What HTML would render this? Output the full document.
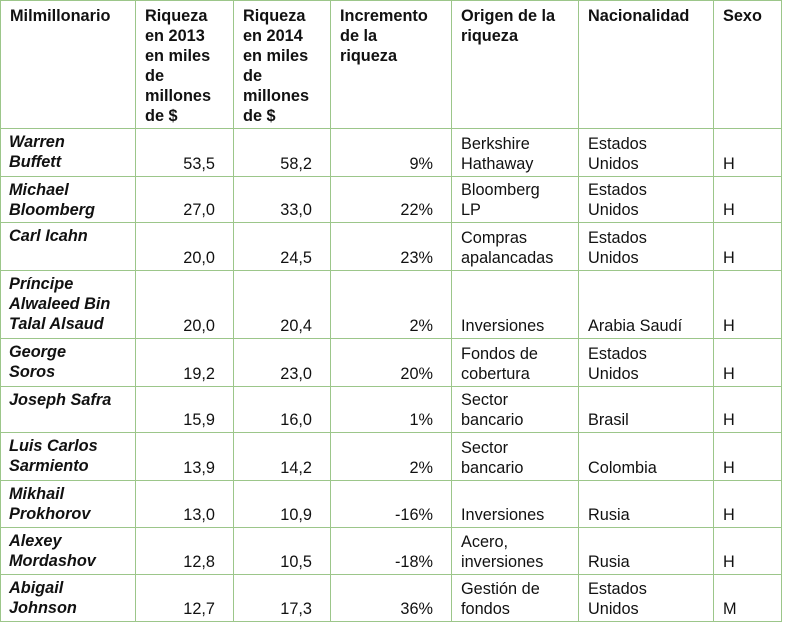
<!DOCTYPE html>
<html><head><meta charset="utf-8"><style>
body{margin:0;background:#fff;width:787px;height:628px;overflow:hidden}
table{position:absolute;left:0;top:0;border-collapse:collapse;table-layout:fixed;font-family:"Liberation Sans",Arial,sans-serif;font-size:16.3px;line-height:20px;color:#111}
td{border:1.5px solid #9cc68a;padding:1px 6px 2px 9px;vertical-align:bottom;overflow:hidden;white-space:nowrap}
tr.h td{vertical-align:top;font-weight:bold;padding-top:5px}
td.n{font-weight:bold;font-style:italic;vertical-align:top;padding-top:3px;padding-left:8px}
td.r{text-align:right;padding-right:18px}
</style></head><body>
<table>
<colgroup><col style="width:135px"><col style="width:98px"><col style="width:97px"><col style="width:121px"><col style="width:127px"><col style="width:135px"><col style="width:68px"></colgroup>
<tr class="h" style="height:128px"><td>Milmillonario</td><td>Riqueza<br>en 2013<br>en miles<br>de<br>millones<br>de $</td><td>Riqueza<br>en 2014<br>en miles<br>de<br>millones<br>de $</td><td>Incremento<br>de la<br>riqueza</td><td>Origen de la<br>riqueza</td><td>Nacionalidad</td><td>Sexo</td></tr>
<tr style="height:48px"><td class="n">Warren<br>Buffett</td><td class="r">53,5</td><td class="r">58,2</td><td class="r">9%</td><td>Berkshire<br>Hathaway</td><td>Estados<br>Unidos</td><td>H</td></tr>
<tr style="height:46px"><td class="n">Michael<br>Bloomberg</td><td class="r">27,0</td><td class="r">33,0</td><td class="r">22%</td><td>Bloomberg<br>LP</td><td>Estados<br>Unidos</td><td>H</td></tr>
<tr style="height:48px"><td class="n">Carl Icahn</td><td class="r">20,0</td><td class="r">24,5</td><td class="r">23%</td><td>Compras<br>apalancadas</td><td>Estados<br>Unidos</td><td>H</td></tr>
<tr style="height:68px"><td class="n">Príncipe<br>Alwaleed Bin<br>Talal Alsaud</td><td class="r">20,0</td><td class="r">20,4</td><td class="r">2%</td><td>Inversiones</td><td>Arabia Saudí</td><td>H</td></tr>
<tr style="height:48px"><td class="n">George<br>Soros</td><td class="r">19,2</td><td class="r">23,0</td><td class="r">20%</td><td>Fondos de<br>cobertura</td><td>Estados<br>Unidos</td><td>H</td></tr>
<tr style="height:46px"><td class="n">Joseph Safra</td><td class="r">15,9</td><td class="r">16,0</td><td class="r">1%</td><td>Sector<br>bancario</td><td>Brasil</td><td>H</td></tr>
<tr style="height:48px"><td class="n">Luis Carlos<br>Sarmiento</td><td class="r">13,9</td><td class="r">14,2</td><td class="r">2%</td><td>Sector<br>bancario</td><td>Colombia</td><td>H</td></tr>
<tr style="height:47px"><td class="n">Mikhail<br>Prokhorov</td><td class="r">13,0</td><td class="r">10,9</td><td class="r">-16%</td><td>Inversiones</td><td>Rusia</td><td>H</td></tr>
<tr style="height:47px"><td class="n">Alexey<br>Mordashov</td><td class="r">12,8</td><td class="r">10,5</td><td class="r">-18%</td><td>Acero,<br>inversiones</td><td>Rusia</td><td>H</td></tr>
<tr style="height:47px"><td class="n">Abigail<br>Johnson</td><td class="r">12,7</td><td class="r">17,3</td><td class="r">36%</td><td>Gestión de<br>fondos</td><td>Estados<br>Unidos</td><td>M</td></tr>
</table>
</body></html>
